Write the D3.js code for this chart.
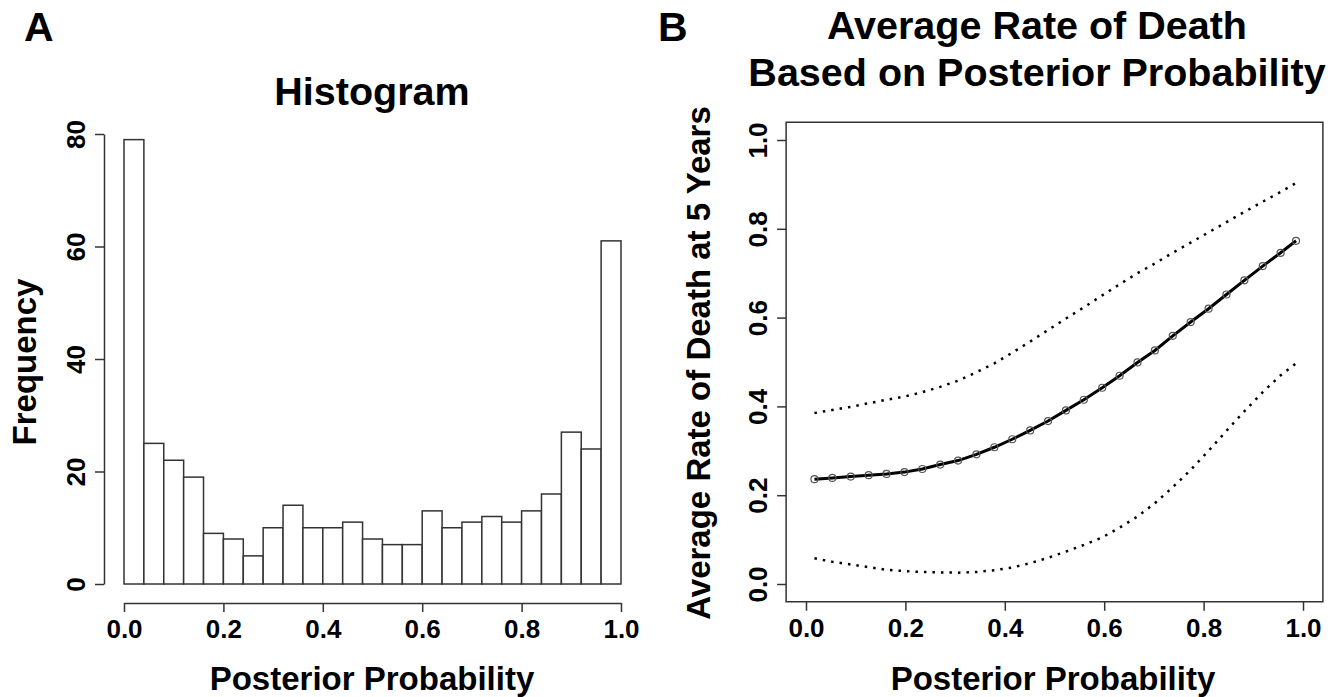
<!DOCTYPE html>
<html><head><meta charset="utf-8">
<script src="https://cdn.jsdelivr.net/npm/d3@7"></script>
<style>
html,body{margin:0;padding:0;background:#fff;}
text{font-family:"Liberation Sans",Arial,sans-serif;font-weight:bold;fill:#000;}
</style></head>
<body>
<svg id="c" width="1334" height="697"></svg>
<script>
// ---- Data ----
const binEdges = [0,0.04,0.08,0.12,0.16,0.2,0.24,0.28,0.32,0.36,0.4,0.44,0.48,0.52,0.56,0.6,0.64,0.68,0.72,0.76,0.8,0.84,0.88,0.92,0.96,1.0];
const binCounts = [79,25,22,19,9,8,5,10,14,10,10,11,8,7,7,13,10,11,12,11,13,16,27,24,61];
const histYTicks = [0,20,40,60,80];
const probTicks = [0,0.2,0.4,0.6,0.8,1.0];
const rateTicks = [0,0.2,0.4,0.6,0.8,1.0];

const postProb = [0.017,0.053,0.090,0.126,0.162,0.198,0.234,0.270,0.306,0.343,0.379,0.415,0.451,0.487,0.523,0.559,0.596,0.631,0.667,0.702,0.738,0.774,0.810,0.846,0.882,0.919,0.955,0.986];
const rateMean = [0.236,0.239,0.242,0.245,0.248,0.252,0.259,0.269,0.278,0.292,0.308,0.326,0.346,0.367,0.391,0.415,0.442,0.469,0.499,0.526,0.559,0.590,0.620,0.652,0.684,0.716,0.746,0.773];
const rateUpper = [0.385,0.392,0.399,0.407,0.415,0.422,0.432,0.444,0.458,0.477,0.497,0.521,0.546,0.572,0.598,0.623,0.650,0.675,0.700,0.722,0.746,0.769,0.792,0.815,0.838,0.861,0.883,0.903];
const rateLower = [0.058,0.050,0.044,0.038,0.032,0.029,0.027,0.026,0.0255,0.027,0.031,0.037,0.047,0.059,0.073,0.088,0.105,0.127,0.152,0.182,0.218,0.257,0.300,0.345,0.389,0.432,0.470,0.497];

const svg = d3.select("#c");
const LINE = "#333";
const fmt = d3.format(".1f");

function styleAxis(g){
  g.selectAll("line").attr("stroke",LINE).attr("stroke-width",1.5);
  g.selectAll("path.domain").attr("stroke",LINE).attr("stroke-width",1.5);
  g.selectAll("text").style("font-size","26px").attr("fill","#000");
}

// ---------------- Panel A ----------------
const xA = d3.scaleLinear().domain([0,1]).range([124,621]);
const yA = d3.scaleLinear().domain([0,80]).range([584,134]);

svg.append("text").attr("x",24).attr("y",41).style("font-size","41px").text("A");
svg.append("text").attr("x",372).attr("y",105).attr("text-anchor","middle").style("font-size","39.5px").text("Histogram");

svg.append("g").selectAll("rect").data(binCounts).join("rect")
  .attr("x",(d,i)=>xA(binEdges[i]))
  .attr("width",(d,i)=>xA(binEdges[i+1])-xA(binEdges[i]))
  .attr("y",d=>yA(d))
  .attr("height",d=>yA(0)-yA(d))
  .attr("fill","#fff").attr("stroke",LINE).attr("stroke-width",1.5);

const axYA = svg.append("g").attr("transform","translate(104,0)")
  .call(d3.axisLeft(yA).tickValues(histYTicks).tickSize(9).tickSizeOuter(0).tickFormat(d3.format("d")));
styleAxis(axYA);
axYA.selectAll("text").attr("x",null).attr("dy",null).attr("text-anchor","middle")
  .attr("transform","translate(-19,0) rotate(-90)");

const axXA = svg.append("g").attr("transform","translate(0,603)")
  .call(d3.axisBottom(xA).tickValues(probTicks).tickSize(9).tickSizeOuter(0).tickFormat(fmt));
styleAxis(axXA);
axXA.selectAll("text").attr("dy",null).attr("y",35);

svg.append("text").attr("transform","translate(36,362) rotate(-90)").attr("text-anchor","middle")
  .style("font-size","33px").text("Frequency");
svg.append("text").attr("x",372).attr("y",690).attr("text-anchor","middle")
  .style("font-size","33px").text("Posterior Probability");

// ---------------- Panel B ----------------
const xB = d3.scaleLinear().domain([0,1]).range([806,1303]);
const yB = d3.scaleLinear().domain([0,1]).range([584,140]);

svg.append("text").attr("x",658).attr("y",41).style("font-size","41px").text("B");
svg.append("text").attr("x",1037).attr("y",39).attr("text-anchor","middle").style("font-size","39.5px").text("Average Rate of Death");
svg.append("text").attr("x",1037).attr("y",86).attr("text-anchor","middle").style("font-size","39.5px").text("Based on Posterior Probability");

svg.append("rect").attr("x",xB(-0.04)).attr("y",yB(1.04))
  .attr("width",xB(1.04)-xB(-0.04)).attr("height",yB(-0.04)-yB(1.04))
  .attr("fill","none").attr("stroke",LINE).attr("stroke-width",1.5);

const axYB = svg.append("g").attr("transform",`translate(${xB(-0.04)},0)`)
  .call(d3.axisLeft(yB).tickValues(rateTicks).tickSize(9).tickSizeOuter(0).tickFormat(fmt));
styleAxis(axYB);
axYB.select("path.domain").remove();
axYB.selectAll("text").attr("x",null).attr("dy",null).attr("text-anchor","middle")
  .attr("transform","translate(-19,0) rotate(-90)");

const axXB = svg.append("g").attr("transform",`translate(0,${yB(-0.04)})`)
  .call(d3.axisBottom(xB).tickValues(probTicks).tickSize(9).tickSizeOuter(0).tickFormat(fmt));
styleAxis(axXB);
axXB.select("path.domain").remove();
axXB.selectAll("text").attr("dy",null).attr("y",35);

const line = (arr)=>d3.line().x((d,i)=>xB(postProb[i])).y(d=>yB(d))(arr);

svg.append("path").attr("d",line(rateUpper)).attr("fill","none").attr("stroke","#000")
  .attr("stroke-width",2.5).attr("stroke-dasharray","2.5,6");
svg.append("path").attr("d",line(rateLower)).attr("fill","none").attr("stroke","#000")
  .attr("stroke-width",2.5).attr("stroke-dasharray","2.5,6");
svg.append("path").attr("d",line(rateMean)).attr("fill","none").attr("stroke","#000")
  .attr("stroke-width",3);
svg.append("g").selectAll("circle").data(rateMean).join("circle")
  .attr("cx",(d,i)=>xB(postProb[i])).attr("cy",d=>yB(d)).attr("r",3.5)
  .attr("fill","none").attr("stroke","#555").attr("stroke-width",1.2);

svg.append("text").attr("transform","translate(710,363) rotate(-90)").attr("text-anchor","middle")
  .style("font-size","33px").text("Average Rate of Death at 5 Years");
svg.append("text").attr("x",1053).attr("y",690).attr("text-anchor","middle")
  .style("font-size","33px").text("Posterior Probability");
</script>
</body></html>
